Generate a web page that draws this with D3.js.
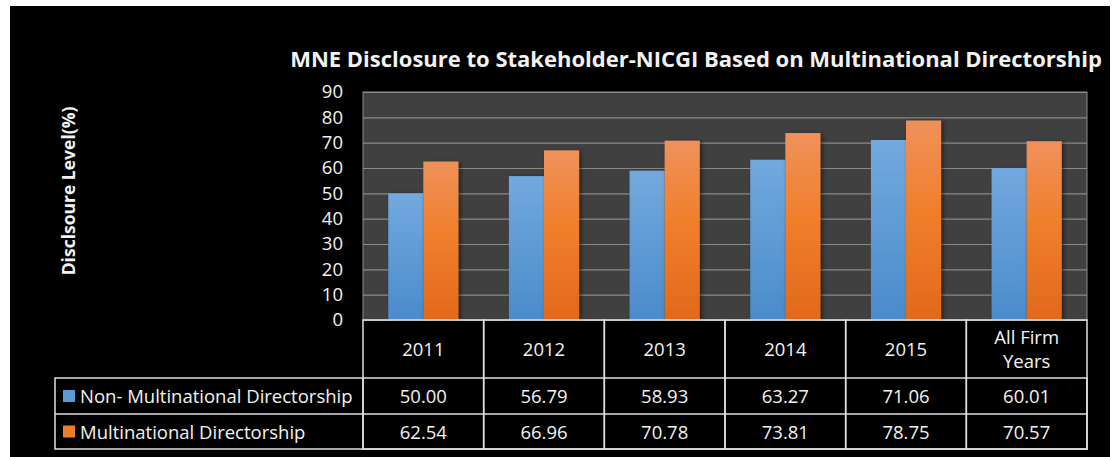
<!DOCTYPE html>
<html>
<head>
<meta charset="utf-8">
<script src="https://d3js.org/d3.v7.min.js"></script>
<style>
    body { margin: 0; background: #fff; font-family: "Open Sans", sans-serif; }
    svg text { fill: #f2f2f2; }
</style>
</head>
<body>
<svg id="svg"></svg>
<script>
    let categories = ['2011', '2012', '2013', '2014', '2015', 'All Firm Years'];
    let seriesNames = ['Non- Multinational Directorship', 'Multinational Directorship'];
    let nonMultinational = [50.00, 56.79, 58.93, 63.27, 71.06, 60.01];
    let multinational = [62.54, 66.96, 70.78, 73.81, 78.75, 70.57];
    let yTicks = [0, 10, 20, 30, 40, 50, 60, 70, 80, 90];

    let visWidth = 1116;
    let visHeight = 457;
    let plotLeft = 363, plotRight = 1087, plotTop = 92, plotBottom = 320;
    let rowH = [58, 36, 35];
    let legendLeft = 55;

    let svg = d3.select('#svg')
        .attr('width', visWidth)
        .attr('height', visHeight);

    svg.append('rect')
        .attr('x', 10).attr('y', 6)
        .attr('width', 1100).attr('height', 451)
        .attr('fill', '#000');

    let defs = svg.append('defs');
    let gradBlue = defs.append('linearGradient').attr('id', 'gBlue')
        .attr('x1', 0).attr('y1', 0).attr('x2', 0).attr('y2', 1);
    gradBlue.append('stop').attr('offset', '0%').attr('stop-color', '#73a9de');
    gradBlue.append('stop').attr('offset', '100%').attr('stop-color', '#4a8bcc');
    let gradOrange = defs.append('linearGradient').attr('id', 'gOrange')
        .attr('x1', 0).attr('y1', 0).attr('x2', 0).attr('y2', 1);
    gradOrange.append('stop').attr('offset', '0%').attr('stop-color', '#f0915a');
    gradOrange.append('stop').attr('offset', '45%').attr('stop-color', '#f07f2c');
    gradOrange.append('stop').attr('offset', '100%').attr('stop-color', '#e2691b');
    let shadow = defs.append('filter').attr('id', 'shadow')
        .attr('x', '-20%').attr('y', '-10%').attr('width', '150%').attr('height', '130%');
    shadow.append('feDropShadow').attr('dx', 2).attr('dy', 1).attr('stdDeviation', 2)
        .attr('flood-color', '#000').attr('flood-opacity', 0.5);

    let xScale = d3.scaleBand()
        .domain(categories)
        .range([plotLeft, plotRight]);

    let xInner = d3.scaleBand()
        .domain([0, 1])
        .range([0, xScale.bandwidth()])
        .paddingInner(0)
        .paddingOuter(0.72);

    let yScale = d3.scaleLinear()
        .domain([0, 90])
        .range([plotBottom, plotTop]);

    // plot background
    svg.append('rect')
        .attr('x', plotLeft).attr('y', plotTop)
        .attr('width', plotRight - plotLeft).attr('height', plotBottom - plotTop)
        .attr('fill', '#404040')
        .attr('stroke', '#8c8c8c').attr('stroke-width', 1);

    // gridlines
    svg.append('g')
        .attr('transform', `translate(${plotLeft},0)`)
        .call(d3.axisLeft(yScale).tickValues(yTicks).tickSize(-(plotRight - plotLeft)).tickFormat(''))
        .call(g => g.select('.domain').remove())
        .call(g => g.selectAll('line').attr('stroke', '#8a8a8a').attr('stroke-width', 1.2));

    // y tick labels
    svg.append('g')
        .attr('transform', `translate(${plotLeft},0)`)
        .call(d3.axisLeft(yScale).tickValues(yTicks).tickSize(0).tickPadding(20))
        .call(g => g.select('.domain').remove())
        .call(g => g.selectAll('text')
            .attr('fill', '#f2f2f2')
            .style('font-size', '18.5px')
            .style('font-family', '"Open Sans", sans-serif'));

    // bars
    let series = [nonMultinational, multinational];
    let fills = ['url(#gBlue)', 'url(#gOrange)'];
    series.forEach((vals, s) => {
        svg.append('g')
            .selectAll('rect')
            .data(vals)
            .join('rect')
            .attr('x', (d, i) => xScale(categories[i]) + xInner(s))
            .attr('y', d => yScale(d))
            .attr('width', xInner.bandwidth())
            .attr('height', d => yScale(0) - yScale(d))
            .attr('fill', fills[s])
            .attr('filter', 'url(#shadow)');
    });

    // data table
    let lineColor = '#e0e0e0';
    let fs = '18.5px';
    let tableTop = plotBottom;
    let rowY = [tableTop, tableTop + rowH[0], tableTop + rowH[0] + rowH[1]];
    let tableBottom = rowY[2] + rowH[2];
    let table = svg.append('g');

    // header row cells
    categories.forEach((c, i) => {
        table.append('rect')
            .attr('x', xScale(c)).attr('y', rowY[0])
            .attr('width', xScale.bandwidth()).attr('height', tableBottom - rowY[0])
            .attr('fill', 'none').attr('stroke', lineColor).attr('stroke-width', 1.5);
        let lines = c === 'All Firm Years' ? ['All Firm', 'Years'] : [c];
        let t = table.append('text')
            .attr('x', xScale(c) + xScale.bandwidth() / 2)
            .attr('text-anchor', 'middle')
            .style('font-size', fs);
        lines.forEach((l, k) => {
            t.append('tspan')
                .attr('x', xScale(c) + xScale.bandwidth() / 2)
                .attr('y', rowY[0] + rowH[0] / 2 + 7 + (k - (lines.length - 1) / 2) * 24)
                .text(l);
        });
    });

    // rows
    table.append('rect')
        .attr('x', legendLeft).attr('y', rowY[1])
        .attr('width', plotRight - legendLeft).attr('height', rowH[1] + rowH[2])
        .attr('fill', 'none').attr('stroke', lineColor).attr('stroke-width', 1.5);
    table.append('line')
        .attr('x1', legendLeft).attr('x2', plotRight)
        .attr('y1', rowY[2]).attr('y2', rowY[2])
        .attr('stroke', lineColor).attr('stroke-width', 1.5);
    table.append('line')
        .attr('x1', plotLeft).attr('x2', plotLeft)
        .attr('y1', rowY[1]).attr('y2', tableBottom)
        .attr('stroke', lineColor).attr('stroke-width', 1.5);

    let keyColors = ['#5b9bd5', '#ed7d31'];
    series.forEach((vals, s) => {
        let y = rowY[s + 1];
        table.append('rect')
            .attr('x', 63).attr('y', y + rowH[s + 1] / 2 - 6)
            .attr('width', 12).attr('height', 12)
            .attr('fill', keyColors[s]);
        table.append('text')
            .attr('x', 80).attr('y', y + rowH[s + 1] / 2 + 7)
            .style('font-size', fs)
            .text(seriesNames[s]);
        table.selectAll(null)
            .data(vals)
            .join('text')
            .attr('x', (d, i) => xScale(categories[i]) + xScale.bandwidth() / 2)
            .attr('y', y + rowH[s + 1] / 2 + 7)
            .attr('text-anchor', 'middle')
            .style('font-size', fs)
            .text(d => d.toFixed(2));
    });

    // title
    svg.append('text')
        .attr('x', 696).attr('y', 67)
        .attr('text-anchor', 'middle')
        .style('font-size', '22px')
        .style('font-weight', 'bold')
        .text('MNE Disclosure to Stakeholder-NICGI Based on Multinational Directorship');

    // y axis label
    svg.append('text')
        .attr('transform', 'translate(75, 191) rotate(-90)')
        .attr('text-anchor', 'middle')
        .style('font-size', '17.5px')
        .style('font-weight', 'bold')
        .text('Disclsoure Level(%)');
</script>
</body>
</html>
